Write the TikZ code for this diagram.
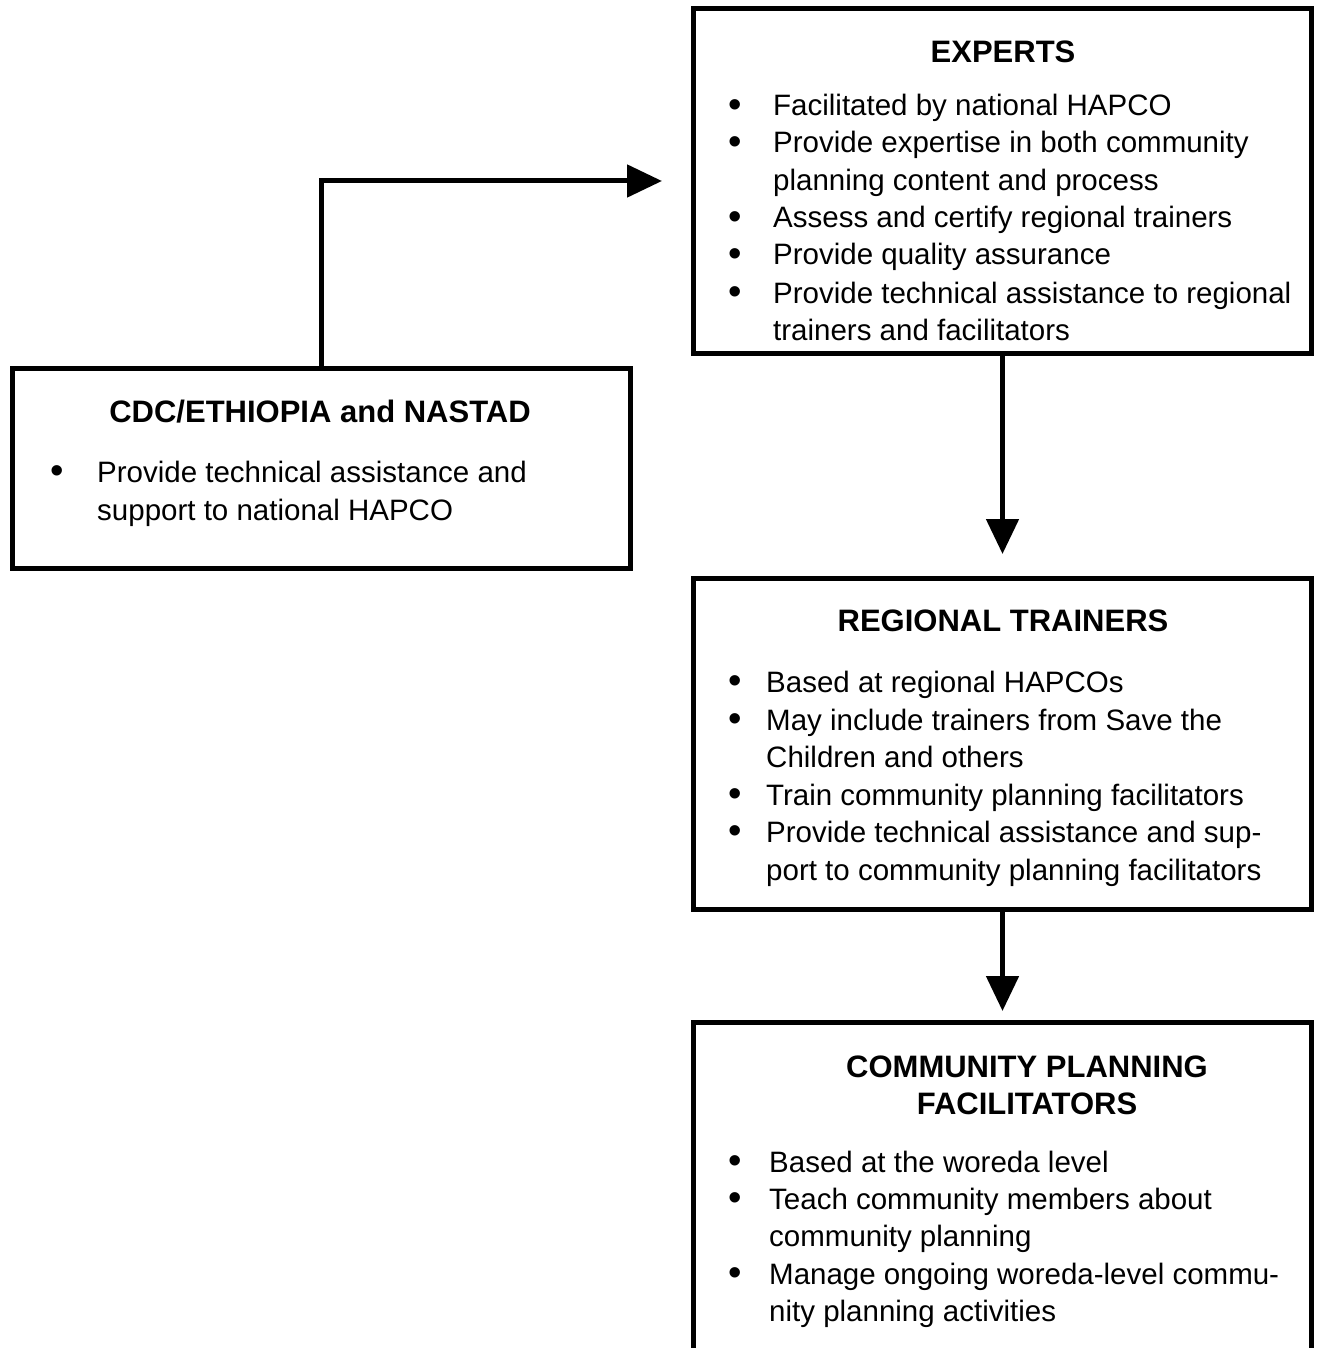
\documentclass[tikz,border=0pt]{standalone}
\usepackage{fontspec}
\setmainfont{Liberation Sans}
\usetikzlibrary{arrows.meta}
\newcommand{\bigbul}{\raisebox{-1.5pt}{\scalebox{1.3}{\textbullet}}}
\begin{document}
\begin{tikzpicture}[x=1pt,y=-1pt,
  box/.style={draw=black,line width=5pt,rectangle,inner sep=0pt,fill=none},
  ttl/.style={anchor=base,inner sep=0pt,font=\fontsize{31}{37.4}\selectfont\bfseries},
  txt/.style={anchor=base west,inner sep=0pt,font=\fontsize{29.5}{37.4}\selectfont},
  bul/.style={anchor=base,inner sep=0pt,font=\fontsize{29.5}{37.4}\selectfont},
  conn/.style={line width=5pt,-{Triangle[length=35pt,width=32pt]}}]
\useasboundingbox (0,0) rectangle (1316,1348);
\clip (0,0) rectangle (1316,1348);
\fill[white] (0,0) rectangle (1316,1348);

% boxes
\node[box,minimum width=618pt,minimum height=345pt] (experts) at (1002.5,181) {};
\node[box,minimum width=618pt,minimum height=200pt] (cdc) at (321.5,468.5) {};
\node[box,minimum width=618pt,minimum height=331pt] (regional) at (1002.5,744) {};
\node[box,minimum width=618pt,minimum height=378pt] (community) at (1002.5,1211.5) {};

% EXPERTS text
\node[ttl] (et) at (1003,63) {EXPERTS};
\node[bul] (eb1) at (735,116) {\bigbul};
\node[txt] (e1) at (773,116) {Facilitated by national HAPCO};
\node[bul] (eb2) at (735,153) {\bigbul};
\node[txt] (e2) at (773,153) {Provide expertise in both community};
\node[txt] (e3) at (773,191) {planning content and process};
\node[bul] (eb3) at (735,228) {\bigbul};
\node[txt] (e4) at (773,228) {Assess and certify regional trainers};
\node[bul] (eb4) at (735,265) {\bigbul};
\node[txt] (e5) at (773,265) {Provide quality assurance};
\node[bul] (eb5) at (735,303) {\bigbul};
\node[txt] (e6) at (773,303) {Provide technical assistance to regional};
\node[txt] (e7) at (773,340) {trainers and facilitators};

% CDC text
\node[ttl] (ct) at (320,422) {CDC/ETHIOPIA and NASTAD};
\node[bul] (cb1) at (57,482) {\bigbul};
\node[txt] (c1) at (97,482) {Provide technical assistance and};
\node[txt] (c2) at (97,520) {support to national HAPCO};

% REGIONAL text
\node[ttl] (rt) at (1003,631) {REGIONAL TRAINERS};
\node[bul] (rb1) at (735,692) {\bigbul};
\node[txt] (r1) at (766,692) {Based at regional HAPCOs};
\node[bul] (rb2) at (735,730) {\bigbul};
\node[txt] (r2) at (766,730) {May include trainers from Save the};
\node[txt] (r3) at (766,767) {Children and others};
\node[bul] (rb3) at (735,805) {\bigbul};
\node[txt] (r4) at (766,805) {Train community planning facilitators};
\node[bul] (rb4) at (735,842) {\bigbul};
\node[txt] (r5) at (766,842) {Provide technical assistance and sup-};
\node[txt] (r6) at (766,880) {port to community planning facilitators};

% COMMUNITY text
\node[ttl] (pt1) at (1027,1077) {COMMUNITY PLANNING};
\node[ttl] (pt2) at (1027,1114) {FACILITATORS};
\node[bul] (pb1) at (735,1172) {\bigbul};
\node[txt] (p1) at (769,1172) {Based at the woreda level};
\node[bul] (pb2) at (735,1209) {\bigbul};
\node[txt] (p2) at (769,1209) {Teach community members about};
\node[txt] (p3) at (769,1246) {community planning};
\node[bul] (pb3) at (735,1284) {\bigbul};
\node[txt] (p4) at (769,1284) {Manage ongoing woreda-level commu-};
\node[txt] (p5) at (769,1321) {nity planning activities};

% connectors
\coordinate (a1end) at (662,181);
\draw[conn] (cdc.north) |- (a1end);
\draw[conn,shorten >=22pt] (experts.south) -- (regional.north);
\draw[conn,shorten >=9pt] (regional.south) -- (community.north);
\end{tikzpicture}
\end{document}
